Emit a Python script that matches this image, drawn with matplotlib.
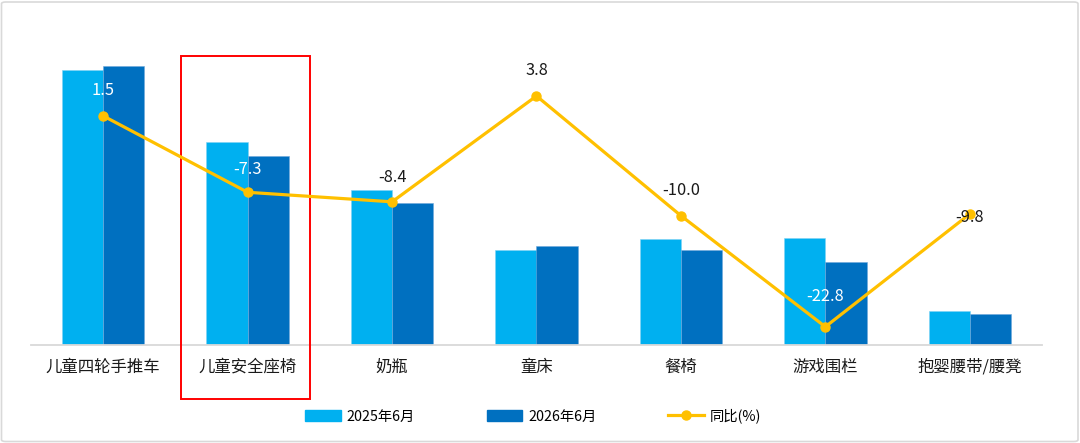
import matplotlib
matplotlib.use("Agg")
import matplotlib.pyplot as plt
from matplotlib.patches import Rectangle, FancyBboxPatch
from matplotlib.lines import Line2D
from matplotlib.transforms import blended_transform_factory
import numpy as np

plt.rcParams['font.family'] = ['Noto Sans CJK SC', 'DejaVu Sans']

categories = ["儿童四轮手推车", "儿童安全座椅", "奶瓶", "童床", "餐椅", "游戏围栏", "抱婴腰带/腰凳"]
sales_2025 = [275, 203, 155, 95, 106, 107, 34]
sales_2026 = [279, 189, 142, 99, 95, 83, 31]
yoy = [1.5, -7.3, -8.4, 3.8, -10.0, -22.8, -9.8]
series_names = ["2025年6月", "2026年6月", "同比(%)"]

c_light = "#00B0F0"
c_dark = "#0070C0"
c_line = "#FFC000"

W, H = 1080, 443
fig = plt.figure(figsize=(W / 100, H / 100), dpi=100)

ax = fig.add_axes([31 / W, 1 - 345 / H, (1042 - 31) / W, (345 - 40) / H])
x = np.arange(len(categories))
bw = 0.285
ax.bar(x - bw / 2, sales_2025, bw, color=c_light, edgecolor="#7FD3F5", linewidth=0.4, zorder=2)
ax.bar(x + bw / 2, sales_2026, bw, color=c_dark, edgecolor="#6FA8DA", linewidth=0.4, zorder=2)
ax.set_xlim(-0.5, len(categories) - 0.5)
ax.set_ylim(0, 305)
ax.set_yticks([])
ax.set_xticks(x)
ax.set_xticklabels(categories, fontsize=11.8, color="#1a1a1a")
ax.tick_params(axis="x", length=0, pad=10)
for s in ["top", "right", "left"]:
    ax.spines[s].set_visible(False)
ax.spines["bottom"].set_color("#D9D9D9")
ax.spines["bottom"].set_linewidth(1.3)
ax.patch.set_visible(False)

ax2 = ax.twinx()
ax2.plot(x, yoy, color=c_line, linewidth=2.3, marker="o", markersize=6.5, zorder=5)
ax2.set_ylim(-24.9, 10.25)
ax2.set_yticks([])
for s in ax2.spines.values():
    s.set_visible(False)

label_colors = ["white", "white", "#1a1a1a", "#1a1a1a", "#1a1a1a", "white", "#1a1a1a"]
offsets = [(0, 25), (0, 23), (0, 24), (0, 25), (0, 25), (0, 30), (0, -4)]
for i, (v, col, off) in enumerate(zip(yoy, label_colors, offsets)):
    ax2.annotate(f"{v:.1f}", (x[i], v), xytext=off, textcoords="offset pixels",
                 ha="center", va="center", fontsize=11.8, color=col, zorder=6)

# legend
handles = [
    Rectangle((0, 0), 1, 1, color=c_light),
    Rectangle((0, 0), 1, 1, color=c_dark),
    Line2D([0], [0], color=c_line, linewidth=2.3, marker="o", markersize=6.5),
]
fig.legend(handles, series_names, loc="center", bbox_to_anchor=(533 / W, 1 - 416 / H),
           ncol=3, frameon=False, fontsize=10.3, handlelength=2.5, handleheight=0.9,
           columnspacing=5.0, handletextpad=0.4)

# red highlight box (around category 2)
trans = blended_transform_factory(ax.transData, fig.transFigure)
ax.add_patch(Rectangle((0.538, 1 - 399 / H), 1.431 - 0.538, (399 - 56) / H,
                       transform=trans, fill=False, edgecolor="#FF0000",
                       linewidth=1.4, clip_on=False, zorder=10))

# outer frame
fig.patches.append(FancyBboxPatch((1.5 / W, 1.5 / H), (W - 3.5) / W, (H - 3.5) / H,
                                  boxstyle="round,pad=0,rounding_size=0.004",
                                  transform=fig.transFigure, fill=False,
                                  edgecolor="#D9D9D9", linewidth=1.2))

fig.savefig("out.png", dpi=100, facecolor="white")
